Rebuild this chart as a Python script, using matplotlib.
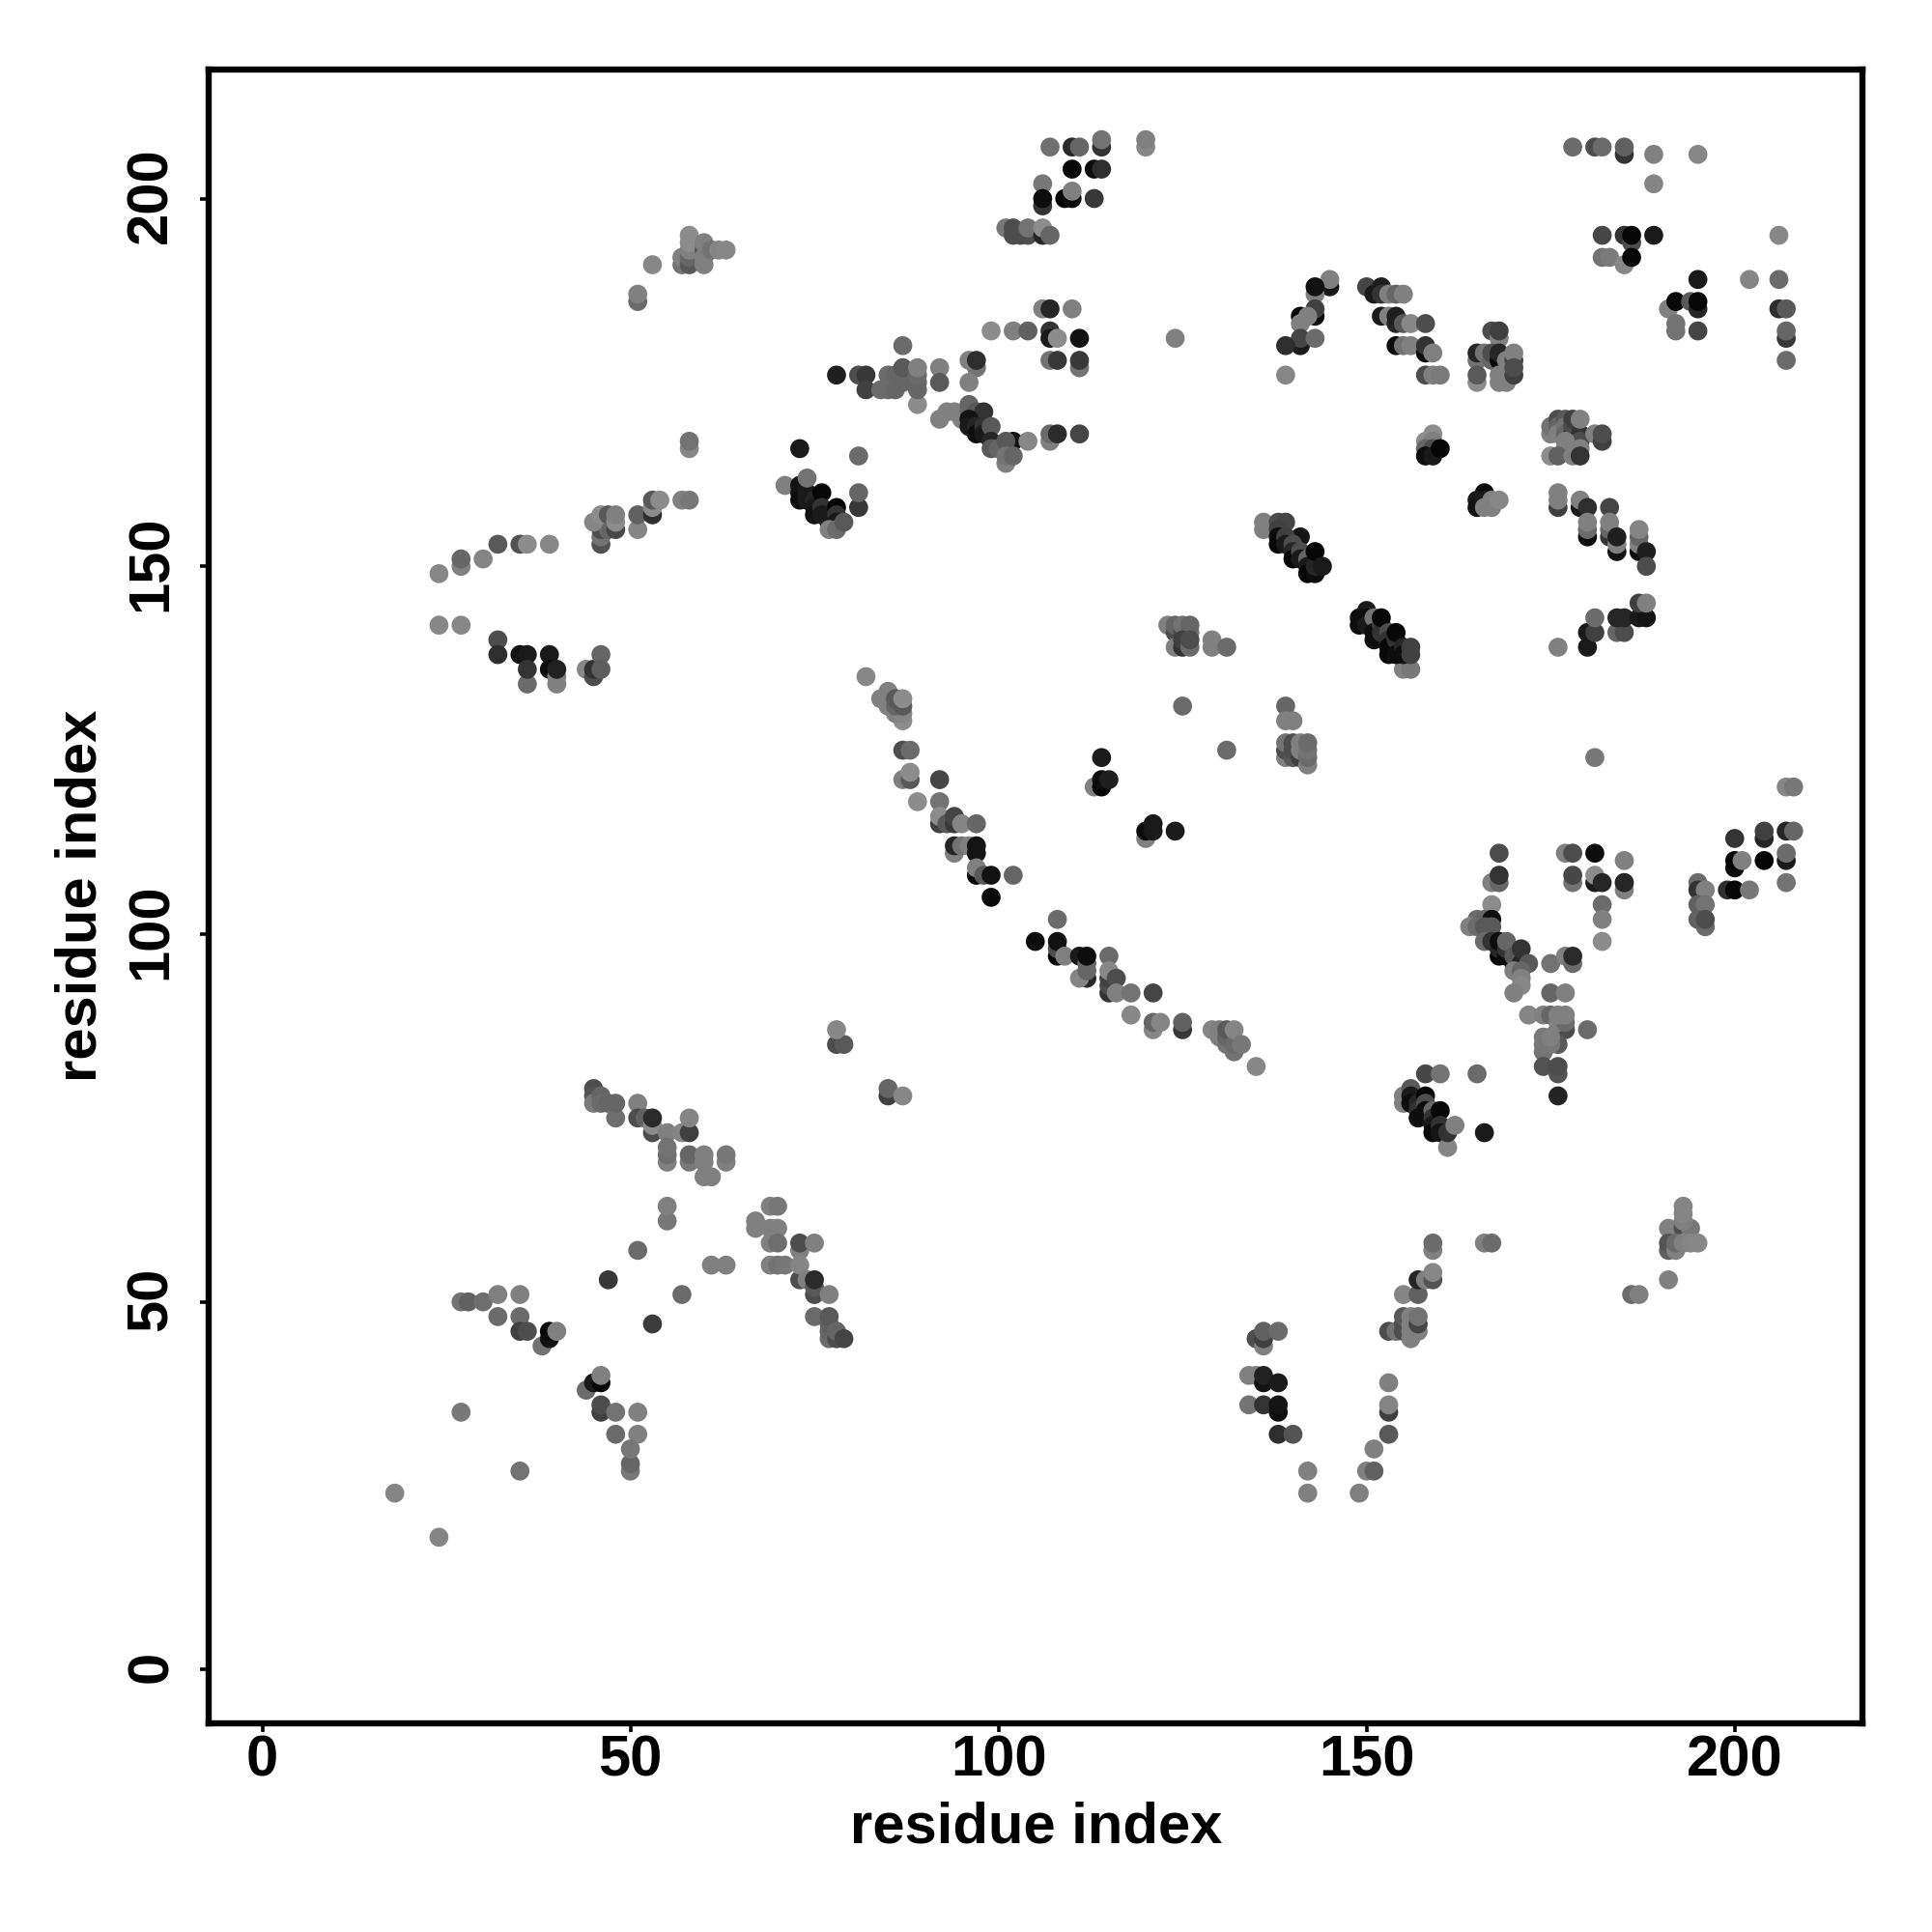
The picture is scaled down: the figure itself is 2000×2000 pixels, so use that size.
import matplotlib
matplotlib.use("Agg")
import matplotlib.pyplot as plt
from matplotlib.transforms import ScaledTranslation

plt.rcParams['font.family'] = ['Liberation Sans', 'DejaVu Sans']

# (residue i, residue j, grey level), cluster by cluster
top_middle = [(107,207,.44),(110,207,.16),(111,207,.4),(114,207,.2),(114,208,.45),(120,207,.53),(120,208,.5),
    (110,204,.03),(113,204,.05),(114,204,.18),(106,202,.47),(106,199,.2),(106,200,.05),(109,200,.02),(110,200,.05),
    (110,201,.5),(113,200,.22),(101,196,.47),(102,196,.3),(102,195,.3),(103,195,.3),(104,195,.3),(104,196,.45),
    (106,195,.15),(106,196,.55),(107,195,.4)]
mid_top = [(106,185,.5),(107,185,.15),(110,185,.5),(99,182,.55),(102,182,.5),(104,182,.38),(107,182,.2),(107,181,.1),
    (108,181,.55),(111,181,.07),(107,178,.45),(108,178,.22),(111,177,.45),(111,178,.22),(97,177,.45),(96,178,.5),
    (97,178,.18),(96,175,.5),(92,177,.5),(92,175,.35),(89,172,.55),(78,176,.12),(81,176,.3),(82,176,.22),(82,174,.25),
    (84,174,.42),(85,174,.42),(86,174,.4),(85,176,.42),(86,176,.4),(87,175,.4),(87,176,.4),(87,177,.35),(89,174,.4),
    (89,175,.4),(89,176,.42),(89,177,.5),(87,180,.42)]
arc_100 = [(92,170,.5),(93,171,.5),(94,171,.5),(95,170,.5),(96,172,.4),(96,171,.4),(97,171,.35),(98,171,.2),(96,170,.07),
    (96,169,.1),(97,169,.15),(97,168,.05),(98,169,.2),(98,168,.1),(99,169,.35),(99,167,.15),(99,166,.35),(100,166,.4),
    (101,164,.5),(102,167,.07),(101,167,.35),(101,165,.45),(102,165,.4),(104,167,.53),(107,167,.5),(107,168,.42),
    (108,168,.17),(111,168,.27)]
left_strand = [(24,149,.53),(27,150,.5),(27,151,.4),(30,151,.52),(32,153,.35),(35,153,.32),(36,153,.55),(39,153,.53),
    (46,153,.32),(46,154,.45),(46,155,.3),(47,155,.4),(48,155,.28),(45,156,.52),(46,157,.55),(47,157,.35),(48,156,.55),
    (48,157,.5),(51,155,.52),(51,157,.38),(53,157,.18),(53,158,.55),(53,159,.35),(54,159,.55),(57,159,.5),(58,159,.47),
    (58,166,.53),(58,167,.45),(24,142,.53),(27,142,.53),(32,140,.3),(32,138,.18),(35,138,.07),(36,138,.1),(36,134,.42),
    (36,136,.2),(39,138,.1),(39,136,.05),(40,134,.5),(40,135,.5),(40,136,.13),(44,136,.53),(45,135,.3),(45,136,.2),
    (46,138,.4),(46,136,.37)]
top_left = [(53,191,.53),(51,186,.42),(51,187,.5),(57,191,.45),(57,192,.5),(58,191,.35),(58,192,.4),(58,193,.5),(58,194,.55),
    (58,195,.55),(60,191,.5),(60,193,.35),(60,192,.5),(60,194,.5),(61,193,.45),(62,193,.52),(63,193,.53)]
diag_75 = [(73,166,.1),(81,165,.42),(71,161,.5),(81,158,.22),(81,160,.4),(73,161,.07),(73,160,.08),(73,159,.05),(74,160,.1),
    (74,159,.1),(75,159,.15),(75,158,.1),(75,157,.07),(76,160,.03),(76,158,.2),(76,157,.1),(77,157,.1),(77,156,.1),
    (78,158,.02),(78,157,.2),(78,156,.1),(77,155,.5),(78,155,.42),(79,156,.35),(74,162,.45)]
top_right = [(178,207,.42),(181,207,.3),(182,207,.42),(185,206,.2),(185,207,.38),(189,206,.5),(195,206,.53),(189,202,.52),
    (182,195,.28),(185,195,.2),(186,194,.3),(186,195,.03),(189,195,.1),(182,192,.45),(183,192,.48),(185,191,.53),
    (186,192,.03),(206,195,.53),(195,189,.1),(202,189,.52),(206,189,.42),(191,185,.5),(192,186,.03),(194,186,.35),
    (195,185,.15),(195,186,.03),(206,185,.18),(207,185,.35),(192,183,.45),(192,182,.45),(195,182,.27),(207,181,.22),
    (207,182,.4),(207,178,.42)]
arc_150 = [(145,188,.1),(145,189,.5),(143,187,.5),(143,188,.07),(150,188,.27),(143,184,.05),(143,185,.25),(141,184,.02),
    (142,184,.5),(141,183,.5),(141,180,.1),(141,181,.27),(143,181,.42),(139,180,.18),(139,176,.53),(124,181,.5),
    (152,188,.12),(151,187,.1),(152,187,.2),(153,187,.5),(154,187,.4),(155,187,.5),(152,184,.1),(153,184,.5),
    (154,183,.15),(154,184,.12),(155,183,.35),(156,183,.53),(158,183,.3),(154,180,.05),(155,180,.45),(156,180,.5),
    (158,179,.05),(158,180,.2),(159,179,.5),(158,176,.3),(159,176,.5),(160,176,.48)]
block_167 = [(167,182,.3),(168,181,.5),(168,182,.25),(165,178,.45),(165,179,.15),(166,179,.45),(167,178,.4),(167,179,.3),
    (168,178,.03),(168,179,.15),(169,178,.5),(170,178,.28),(170,179,.5),(165,175,.55),(165,176,.35),(168,175,.5),
    (168,176,.5),(169,175,.5),(170,176,.25),(170,177,.3)]
block_177 = [(175,168,.5),(175,169,.45),(176,170,.3),(176,169,.4),(176,168,.5),(177,170,.35),(177,169,.45),(177,168,.4),
    (178,168,.02),(178,169,.3),(178,170,.25),(179,168,.2),(179,167,.3),(179,166,.5),(179,170,.5),(181,168,.5),
    (182,167,.25),(182,168,.3),(177,167,.5),(177,166,.5),(175,165,.55),(176,165,.38),(178,165,.5),(179,165,.2)]
small_160 = [(159,168,.55),(158,167,.55),(159,167,.5),(158,166,.4),(159,166,.3),(158,165,.05),(159,165,.1),(160,166,.02),
    (166,160,.03),(165,159,.1),(165,158,.07),(166,159,.1),(166,158,.5),(167,158,.5),(167,159,.5),(168,159,.53)]
right_strand = [(176,158,.25),(176,159,.5),(176,160,.5),(179,158,.1),(179,159,.5),(180,158,.18),(183,158,.27),(180,154,.05),
    (180,155,.42),(180,156,.5),(183,154,.2),(183,155,.4),(183,156,.5),(184,152,.07),(184,153,.5),(184,154,.12),
    (187,152,.05),(187,153,.5),(187,154,.4),(187,155,.52),(188,152,.12),(188,150,.3),(176,139,.5),(180,139,.1),
    (180,141,.1),(181,141,.25),(181,143,.42),(184,141,.4),(185,141,.3),(184,143,.15),(185,143,.15),(187,143,.1),
    (188,143,.08),(187,145,.25),(188,145,.5)]
diag_140 = [(136,155,.5),(136,156,.5),(138,156,.3),(139,156,.27),(141,154,.08),(138,155,.25),(138,154,.05),(138,153,.03),
    (139,154,.25),(139,153,.1),(140,153,.3),(140,152,.15),(140,151,.03),(141,152,.3),(141,151,.1),(142,151,.4),
    (142,150,.1),(142,149,.02),(143,149,.05),(143,150,.15),(143,152,.03),(144,150,.1)]
diag_152 = [(155,136,.5),(156,136,.47),(150,144,.1),(149,143,.05),(149,142,.05),(150,143,.05),(150,142,.1),(151,143,.45),
    (151,141,.05),(151,140,.05),(152,142,.25),(152,141,.2),(152,143,.03),(153,141,.3),(153,140,.2),(153,139,.03),
    (153,138,.03),(154,140,.2),(154,138,.05),(154,141,.03),(155,139,.15),(155,138,.05),(156,139,.25),(156,138,.25)]
block_125 = [(123,142,.5),(124,141,.3),(124,142,.4),(125,141,.3),(125,142,.45),(126,141,.45),(126,142,.4),(124,139,.5),
    (125,139,.2),(125,140,.25),(126,139,.42),(126,140,.3),(129,139,.5),(129,140,.5),(131,139,.42),(125,131,.42),
    (131,125,.42)]
block_140 = [(139,131,.4),(139,129,.5),(140,129,.5),(139,124,.5),(139,125,.3),(139,126,.45),(140,124,.35),(140,125,.3),
    (140,126,.3),(141,124,.25),(141,125,.5),(141,126,.5),(142,123,.5),(142,124,.42),(142,125,.45),(142,126,.42)]
small_115 = [(114,124,.1),(113,120,.5),(114,120,.02),(114,121,.05),(115,121,.12),(120,113,.5),(120,114,.05),(121,114,.1),
    (121,115,.1),(124,114,.1)]
long_diag = [(82,135,.53),(85,133,.5),(84,132,.5),(85,132,.5),(85,131,.5),(87,129,.55),(86,130,.5),(87,130,.52),(86,131,.4),
    (86,132,.35),(87,131,.35),(87,132,.55),(87,125,.3),(88,125,.42),(87,121,.5),(88,121,.35),(88,122,.55),(92,121,.27),
    (89,118,.55),(92,118,.45),(92,115,.25),(92,116,.55),(93,115,.35),(94,115,.22),(94,116,.27),(95,115,.52),(97,115,.4),
    (94,111,.5),(94,112,.15),(95,112,.45),(96,112,.5),(97,111,.08),(97,112,.08),(97,108,.02),(97,109,.5),(98,108,.35),
    (99,108,.07),(99,105,.04),(102,108,.4),(108,102,.42),(105,99,.05),(108,97,.02),(108,98,.3),(108,99,.07),(109,97,.5),
    (111,97,.1),(112,94,.15),(111,94,.52),(112,95,.4),(112,96,.4),(112,97,.05),(115,97,.42),(115,92,.2),(115,93,.3),
    (115,94,.25),(115,95,.53),(116,94,.3),(116,92,.5),(118,92,.45),(121,92,.27),(118,89,.53),(121,87,.53),(121,88,.4),
    (122,88,.52),(125,87,.22),(125,88,.38),(129,87,.52),(130,86,.5),(130,87,.5),(131,85,.45),(131,86,.4),(131,87,.35),
    (132,84,.45),(132,85,.42),(132,87,.52),(133,85,.47),(135,82,.53),(85,78,.25),(85,79,.4),(87,78,.53),(78,85,.3),
    (79,85,.35),(78,87,.53)]
block_170 = [(181,124,.47),(207,120,.53),(208,120,.47),(168,111,.3),(177,111,.5),(178,111,.3),(181,111,.05),(185,110,.5),
    (167,107,.5),(168,107,.4),(168,108,.2),(178,107,.45),(178,108,.28),(181,107,.1),(181,108,.55),(182,107,.15),
    (185,106,.5),(185,107,.5),(185,107,.15),(182,104,.42),(182,102,.5),(182,99,.55),(167,104,.55),(165,102,.42),
    (166,102,.4),(167,102,.05),(164,101,.5),(165,101,.42),(166,101,.35),(167,101,.35),(166,99,.42),(167,99,.2),
    (168,97,.03),(168,98,.15),(168,99,.05),(169,97,.05),(169,98,.2),(169,99,.4),(170,96,.05),(170,97,.35),(171,96,.15),
    (171,98,.2),(172,96,.35),(170,95,.5),(171,95,.4),(171,94,.5),(171,93,.53),(170,92,.5)]
block_176 = [(175,96,.45),(177,97,.5),(178,96,.42),(178,97,.17),(175,92,.4),(177,92,.5),(172,89,.52),(174,89,.5),(175,89,.4),
    (176,87,.25),(177,87,.3),(176,88,.5),(177,88,.42),(176,89,.5),(177,89,.5),(180,87,.42),(176,85,.35),(174,84,.45),
    (174,85,.47),(175,85,.47),(174,86,.47),(175,86,.5),(174,82,.32),(176,81,.33),(176,82,.3),(176,78,.14)]
right_upper = [(195,107,.42),(195,106,.2),(196,106,.5),(195,104,.38),(196,104,.45),(196,101,.42),(195,102,.38),(196,102,.3),
    (199,106,.18),(200,106,.03),(202,106,.47),(200,109,.05),(200,110,.02),(201,110,.5),(200,113,.2),(204,113,.15),
    (204,114,.25),(204,110,.02),(207,114,.15),(208,114,.4),(207,110,.1),(207,111,.42),(207,107,.45)]
diag_158 = [(158,81,.28),(160,81,.45),(165,81,.42),(155,77,.5),(155,78,.5),(156,79,.35),(156,78,.1),(156,77,.05),(157,77,.15),
    (157,76,.2),(157,75,.05),(158,78,.03),(158,77,.3),(158,76,.05),(159,76,.4),(159,75,.2),(159,74,.1),(159,73,.04),
    (160,76,.03),(160,74,.2),(160,73,.08),(161,71,.52),(161,73,.2),(162,74,.5),(166,73,.1)]
v_140 = [(134,40,.5),(135,40,.5),(136,39,.07),(136,40,.13),(138,39,.1),(134,36,.45),(136,36,.2),(138,35,.05),(138,36,.08),
    (138,32,.18),(140,32,.33),(142,27,.5),(142,24,.5),(149,24,.5),(150,27,.5),(151,27,.38),(151,30,.5),(153,32,.35),
    (153,35,.25),(153,36,.52),(153,39,.5),(135,45,.3),(136,44,.5),(136,45,.25),(136,46,.38),(138,46,.42)]
rise_155 = [(153,46,.3),(154,46,.45),(155,46,.3),(155,47,.3),(155,48,.35),(157,46,.5),(156,45,.5),(156,46,.5),(156,47,.5),
    (156,48,.5),(157,47,.27),(157,48,.45),(155,51,.52),(157,51,.38),(157,53,.15),(158,53,.5),(159,53,.33),(159,54,.53),
    (159,57,.5),(159,58,.42),(166,58,.5),(167,58,.42)]
far_right = [(186,51,.42),(187,51,.5),(191,53,.5),(191,60,.5),(193,60,.3),(194,60,.47),(193,61,.5),(193,62,.52),(193,63,.52),
    (191,57,.38),(191,58,.33),(192,57,.5),(192,58,.42),(193,58,.5),(194,58,.52),(195,58,.53)]
lower_strand = [(45,79,.3),(45,78,.33),(45,77,.48),(46,78,.4),(46,77,.42),(47,77,.4),(48,75,.43),(48,77,.4),(51,77,.5),
    (51,75,.3),(52,75,.38),(53,73,.3),(53,74,.55),(53,75,.17),(55,73,.5),(57,73,.52),(58,73,.25),(58,75,.52),(55,69,.5),
    (55,70,.43),(55,71,.45),(58,69,.47),(58,70,.4),(60,67,.5),(61,67,.5),(60,69,.5),(60,70,.5),(63,69,.5),(63,70,.47),
    (55,61,.47),(55,63,.5),(51,57,.42),(47,53,.22),(57,51,.42),(53,47,.23),(61,55,.5),(63,55,.5)]
lower_block = [(69,63,.5),(70,63,.47),(67,60,.5),(67,61,.5),(69,60,.5),(70,60,.5),(69,58,.5),(70,58,.43),(73,57,.5),(73,58,.3),
    (75,58,.5),(69,55,.5),(70,55,.45),(71,55,.47),(73,53,.3),(73,55,.52),(74,53,.5),(75,51,.3),(75,52,.35),(75,53,.17),
    (77,51,.5),(75,48,.42),(77,45,.42),(77,46,.4),(77,47,.38),(77,48,.35),(78,45,.3),(78,46,.4),(79,45,.27)]
lower_left = [(27,50,.45),(28,50,.38),(30,50,.43),(32,51,.5),(35,51,.5),(32,48,.42),(35,48,.42),(35,46,.25),(36,46,.3),
    (38,44,.45),(39,45,.07),(39,46,.03),(40,46,.5),(44,38,.42),(45,39,.1),(46,39,.03),(46,40,.5),(46,35,.25),(46,36,.3),
    (48,35,.45),(51,35,.5),(48,32,.42),(51,32,.5),(50,27,.47),(50,28,.4),(50,30,.47),(27,35,.47),(35,27,.45),(18,24,.52),
    (24,18,.52)]

clusters = [top_middle, mid_top, arc_100, left_strand, top_left, diag_75, top_right, arc_150, block_167, block_177,
            small_160, right_strand, diag_140, diag_152, block_125, block_140, small_115, long_diag, block_170,
            block_176, right_upper, diag_158, v_140, rise_155, far_right, lower_strand, lower_block, lower_left]

ticks = [0, 50, 100, 150, 200]

fig = plt.figure(figsize=(10, 10), dpi=200)
ax = fig.add_axes([216.4/2000, 1-1783.7/2000, (1928-216.4)/2000, (1783.7-71.5)/2000])

for c in clusters:
    xs = [p[0] for p in c]
    ys = [p[1] for p in c]
    cols = [str(p[2]) for p in c]
    ax.scatter(xs, ys, s=50, c=cols, linewidths=0, zorder=3, clip_on=True)

ax.set_xlim(-7.23, 217.35)
ax.set_ylim(-7.26, 217.6)
ax.set_xticks(ticks)
ax.set_yticks(ticks)
ax.tick_params(axis='both', length=3.4, width=1.3, color='black')
ax.tick_params(axis='x', pad=1)
ax.tick_params(axis='y', pad=8)
# rotated labels sit a little low otherwise
shift_up = ScaledTranslation(0, 3/200, fig.dpi_scale_trans)
for lab in ax.get_xticklabels():
    lab.set_fontsize(21.5)
    lab.set_fontweight('bold')
for lab in ax.get_yticklabels():
    lab.set_fontsize(21.5)
    lab.set_fontweight('bold')
    lab.set_rotation(90)
    lab.set_va('center')
    lab.set_transform(lab.get_transform() + shift_up)
for s in ax.spines.values():
    s.set_linewidth(2.3)
ax.set_xlabel('residue index', fontsize=21.5, fontweight='bold', labelpad=5)
ax.set_ylabel('residue index', fontsize=21.5, fontweight='bold', labelpad=6.4)

fig.savefig('out.png', dpi=200, facecolor='white')
